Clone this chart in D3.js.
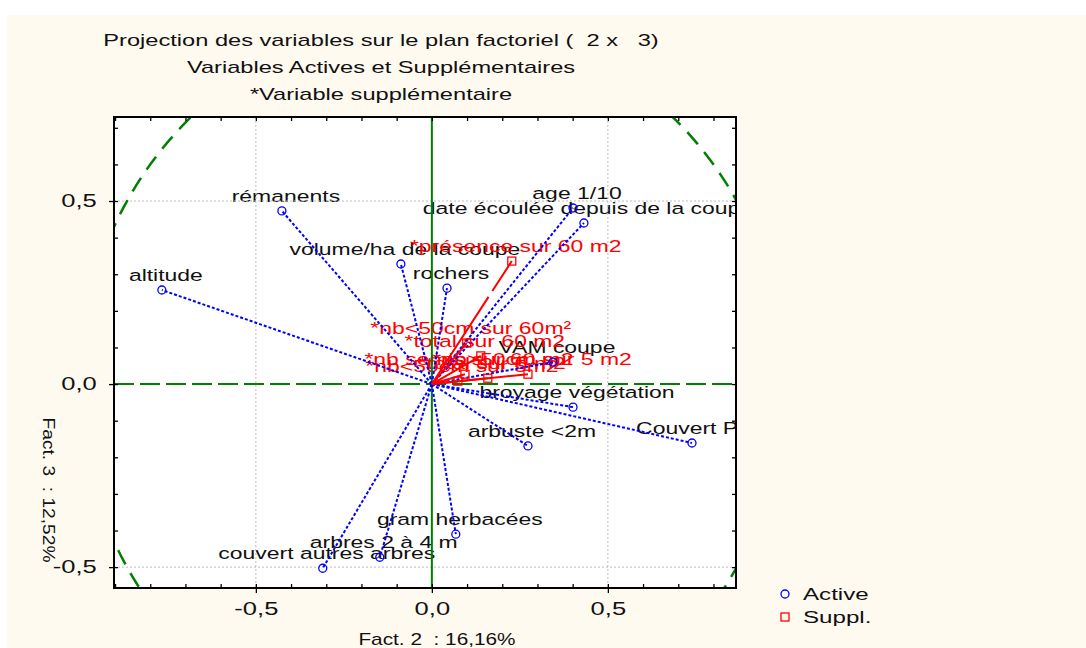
<!DOCTYPE html>
<html>
<head>
<meta charset="utf-8">
<script src="https://cdn.jsdelivr.net/npm/d3@7"></script>
<style>
  body { margin: 0; background: #ffffff; }
  text { font-family: "Liberation Sans", Arial, sans-serif; white-space: pre; }
</style>
</head>
<body>
<svg id="chart" width="1086" height="648"></svg>
<script>
// active variables (Fact. 2 / Fact. 3 coordinates)
var activeNames = ["rémanents", "altitude", "volume/ha de la coupe", "rochers", "age 1/10",
    "date écoulée depuis de la coupe", "VAM coupe", "broyage végétation", "Couvert Pin",
    "arbuste <2m", "gram herbacées", "arbres 2 à 4 m", "couvert autres arbres"]
var activeF2 = [-0.426, -0.767, -0.088, 0.043, 0.401, 0.432, 0.344, 0.401, 0.739, 0.273, 0.068, -0.148, -0.310]
var activeF3 = [0.473, 0.257, 0.328, 0.262, 0.481, 0.440, 0.060, -0.063, -0.161, -0.169, -0.410, -0.473, -0.503]

// supplementary variables
var supplNames = ["*présence sur 60 m2", "*nb<50cm sur 60m²", "*total sur 60 m2", "*nb semis sur 60 m2",
    "*nb>50cm sur 5 m2", "*nb<50cm sur 5m2", "*total sur 5 m2"]
var supplF2 = [0.227, 0.099, 0.139, 0.094, 0.273, 0.074, 0.159]
var supplF3 = [0.336, 0.112, 0.077, 0.027, 0.027, 0.008, 0.016]

var xTicks = [-0.5, 0, 0.5]
var xTickLabels = ["-0,5", "0,0", "0,5"]
var yTicks = [-0.5, 0, 0.5]
var yTickLabels = ["-0,5", "0,0", "0,5"]

var titleLines = ["Projection des variables sur le plan factoriel (  2 x   3)",
    "Variables Actives et Supplémentaires", "*Variable supplémentaire"]
var xTitle = "Fact. 2  : 16,16%"
var yTitle = "Fact. 3  : 12,52%"
var legendNames = ["Active", "Suppl."]

var svg = d3.select("#chart")
svg.append("rect").attr("x", 7).attr("y", 15).attr("width", 1079).attr("height", 633).attr("fill", "#fffaf0")

var margin = { top: 117, left: 114, bottom: 60, right: 350 }
var width = 1086 - margin.left - margin.right
var height = 648 - margin.top - margin.bottom

var X_scale = d3.scaleLinear().domain([-0.903, 0.864]).range([0, width])
var Y_scale = d3.scaleLinear().domain([-0.557, 0.7295]).range([height, 0])

var g = svg.append("g").attr("transform", `translate(${margin.left},${margin.top})`)

g.append("rect").attr("width", width).attr("height", height).attr("fill", "#ffffff")

g.append("clipPath").attr("id", "plotClip")
    .append("rect").attr("width", width).attr("height", height)

var plot = g.append("g").attr("clip-path", "url(#plotClip)")

// labels first, the vectors are drawn over them
var active = activeNames.map(function (n, i) { return { name: n, x: activeF2[i], y: activeF3[i] } })
var suppl = supplNames.map(function (n, i) { return { name: n, x: supplF2[i], y: supplF3[i] } })

// the source glyphs come out horizontally stretched
function label(sel, color) {
    sel.append("text")
        .attr("transform", function (d) { return `translate(${X_scale(d.x) + 4},${Y_scale(d.y) - 9}) scale(1.35,1)` })
        .attr("text-anchor", "middle")
        .attr("font-size", 17)
        .attr("fill", color)
        .text(function (d) { return d.name })
}
plot.append("g").selectAll("g").data(active).join("g").call(label, "#111111")
plot.append("g").selectAll("g").data(suppl).join("g").call(label, "#ff0000")

// grid at +-0.5
plot.selectAll(".gx").data(xTicks.filter(function (d) { return d !== 0 })).join("line")
    .attr("x1", function (d) { return X_scale(d) }).attr("x2", function (d) { return X_scale(d) })
    .attr("y1", 0).attr("y2", height)
    .attr("stroke", "#bdbdbd").attr("stroke-dasharray", "2,2")
plot.selectAll(".gy").data(yTicks.filter(function (d) { return d !== 0 })).join("line")
    .attr("y1", function (d) { return Y_scale(d) }).attr("y2", function (d) { return Y_scale(d) })
    .attr("x1", 0).attr("x2", width)
    .attr("stroke", "#bdbdbd").attr("stroke-dasharray", "2,2")

// zero lines
plot.append("line").attr("x1", 0).attr("x2", width).attr("y1", Y_scale(0)).attr("y2", Y_scale(0))
    .attr("stroke", "#008000").attr("stroke-width", 2).attr("stroke-dasharray", "20,6")
plot.append("line").attr("x1", X_scale(0)).attr("x2", X_scale(0)).attr("y1", 0).attr("y2", height)
    .attr("stroke", "#008000").attr("stroke-width", 2)

// unit circle
var circleLine = d3.line()
    .x(function (a) { return X_scale(Math.cos(a * Math.PI / 180)) })
    .y(function (a) { return Y_scale(Math.sin(a * Math.PI / 180)) })
plot.append("path").datum(d3.range(0, 361, 1)).attr("d", circleLine)
    .attr("fill", "none").attr("stroke", "#008000").attr("stroke-width", 2.5).attr("stroke-dasharray", "16,10")

// vectors
plot.selectAll(".va").data(active).join("line")
    .attr("x1", X_scale(0)).attr("y1", Y_scale(0))
    .attr("x2", function (d) { return X_scale(d.x) }).attr("y2", function (d) { return Y_scale(d.y) })
    .attr("stroke", "#0000ff").attr("stroke-width", 2).attr("stroke-dasharray", "3,2")
plot.selectAll(".vs").data(suppl).join("line")
    .attr("x1", X_scale(0)).attr("y1", Y_scale(0))
    .attr("x2", function (d) { return X_scale(d.x) }).attr("y2", function (d) { return Y_scale(d.y) })
    .attr("stroke", "#ff0000").attr("stroke-width", 2).attr("stroke-dasharray", "104,7")

plot.selectAll(".pa").data(active).join("circle")
    .attr("cx", function (d) { return X_scale(d.x) }).attr("cy", function (d) { return Y_scale(d.y) })
    .attr("r", 4).attr("fill", "none").attr("stroke", "#0000ff").attr("stroke-width", 1.3)
plot.selectAll(".ps").data(suppl).join("rect")
    .attr("x", function (d) { return X_scale(d.x) - 4 }).attr("y", function (d) { return Y_scale(d.y) - 4 })
    .attr("width", 8).attr("height", 8).attr("fill", "none").attr("stroke", "#ff0000").attr("stroke-width", 1.3)

// axes: minor ticks inside on all four sides, major ticks outside with labels
var minorX = d3.range(-9, 9).map(function (d) { return d / 10 })
var minorY = d3.range(-5, 8).map(function (d) { return d / 10 })

function cleanAxis(a) { a.select(".domain").remove(); a.selectAll("line").attr("stroke-width", 1.3) }

g.append("g").attr("transform", `translate(0,${height})`)
    .call(d3.axisBottom(X_scale).tickValues(minorX).tickSize(-4).tickFormat("")).call(cleanAxis)
g.append("g")
    .call(d3.axisTop(X_scale).tickValues(minorX).tickSize(-4).tickFormat("")).call(cleanAxis)
g.append("g")
    .call(d3.axisLeft(Y_scale).tickValues(minorY).tickSize(-4).tickFormat("")).call(cleanAxis)
g.append("g").attr("transform", `translate(${width},0)`)
    .call(d3.axisRight(Y_scale).tickValues(minorY).tickSize(-4).tickFormat("")).call(cleanAxis)

var xAxis = g.append("g").attr("transform", `translate(0,${height})`)
    .call(d3.axisBottom(X_scale).tickValues(xTicks).tickSize(5).tickPadding(9)
        .tickFormat(function (d, i) { return xTickLabels[i] }))
    .call(cleanAxis)
var yAxis = g.append("g")
    .call(d3.axisLeft(Y_scale).tickValues(yTicks).tickSize(5).tickPadding(5)
        .tickFormat(function (d, i) { return yTickLabels[i] }))
    .call(cleanAxis)
g.selectAll(".tick text").attr("font-size", 18).attr("fill", "#111111")
    .attr("font-family", "Liberation Sans, Arial, sans-serif")
xAxis.selectAll("text").attr("transform", "scale(1.42,1)")
yAxis.selectAll("text").attr("transform", "translate(-3,0) scale(1.42,1)")

g.append("rect").attr("width", width).attr("height", height)
    .attr("fill", "none").attr("stroke", "#000000").attr("stroke-width", 2)

// titles
svg.selectAll(".title").data(titleLines).join("text")
    .attr("transform", function (d, i) { return `translate(381,${46 + i * 27}) scale(1.39,1)` })
    .attr("text-anchor", "middle").attr("font-size", 17).attr("fill", "#111111")
    .text(function (d) { return d })

svg.append("text").attr("transform", "translate(437,645) scale(1.3,1)")
    .attr("text-anchor", "middle").attr("font-size", 16).attr("fill", "#111111").text(xTitle)
svg.append("text").attr("transform", "translate(43,490) rotate(90) scale(1.2,1)")
    .attr("text-anchor", "middle").attr("font-size", 16).attr("fill", "#111111").text(yTitle)

// legend
var legend = svg.append("g").attr("transform", "translate(785,594)")
legend.append("circle").attr("r", 4).attr("fill", "none").attr("stroke", "#0000ff").attr("stroke-width", 1.3)
legend.append("rect").attr("x", -4).attr("y", 19).attr("width", 8).attr("height", 8)
    .attr("fill", "none").attr("stroke", "#ff0000").attr("stroke-width", 1.3)
legend.selectAll("text").data(legendNames).join("text")
    .attr("transform", function (d, i) { return `translate(18,${6 + i * 23}) scale(1.42,1)` })
    .attr("font-size", 17).attr("fill", "#111111").text(function (d) { return d })
</script>
</body>
</html>
